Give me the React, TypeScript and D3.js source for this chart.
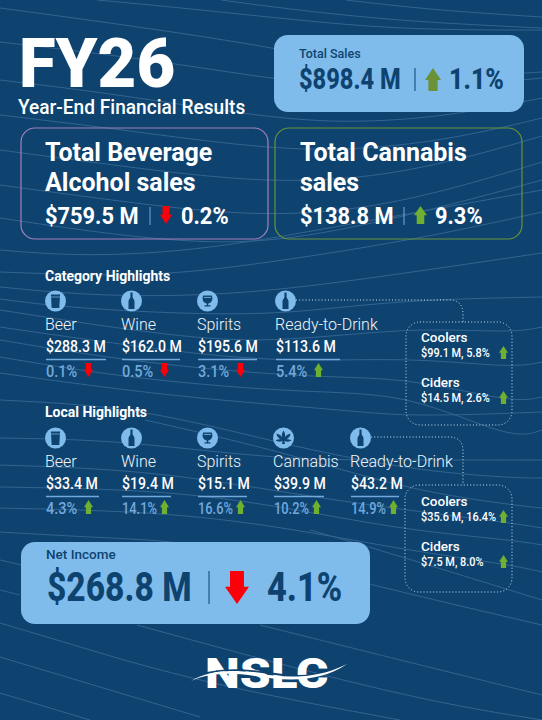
import * as d3 from "d3";

const navy = "#0e4370";
const sky = "#7fbbeb";
const red = "#fa0009";
const green = "#6fb031";
const olive = "#6b9239";
const soft = "#72a9dc";
const font = "Roboto, sans-serif";

const categoryNames = ["Beer", "Wine", "Spirits", "Ready-to-Drink"];
const categorySales = [288.3, 162.0, 195.6, 113.6];
const categoryChange = [-0.1, -0.5, -3.1, 5.4];
const categoryIcons = ["glass", "bottle", "snifter", "bottle"];

const localNames = ["Beer", "Wine", "Spirits", "Cannabis", "Ready-to-Drink"];
const localSales = [33.4, 19.4, 15.1, 39.9, 43.2];
const localChange = [4.3, 14.1, 16.6, 10.2, 14.9];
const localIcons = ["glass", "bottle", "snifter", "leaf", "bottle"];

const rtdNames = ["Coolers", "Ciders"];
const rtdSales = [99.1, 14.5];
const rtdChange = [5.8, 2.6];
const localRtdSales = [35.6, 7.5];
const localRtdChange = [16.4, 8.0];

const totalSales = 898.4;
const totalChange = 1.1;
const alcoholSales = 759.5;
const alcoholChange = -0.2;
const cannabisSales = 138.8;
const cannabisChange = 9.3;
const netIncome = 268.8;
const netChange = -4.1;

// background contour lines, just decoration
const waves: [number, number][][] = [
  [[97, 0], [173, 7], [277, 18], [400, 30], [542, 30]],
  [[221, 0], [311, 12], [415, 22], [542, 28]],
  [[346, 0], [432, 10], [542, 17]],
  [[0, 8], [104, 22], [242, 42], [346, 62], [440, 78], [542, 72]],
  [[0, 42], [69, 50], [173, 63], [277, 80], [400, 92], [542, 78]],
  [[0, 80], [100, 92], [230, 112], [330, 124], [440, 118], [542, 98]],
  [[0, 115], [110, 128], [240, 146], [340, 152], [450, 140], [542, 118]],
  [[0, 150], [120, 166], [250, 182], [360, 180], [460, 160], [542, 136]],
  [[0, 185], [110, 200], [240, 216], [350, 212], [450, 190], [542, 162]],
  [[0, 218], [120, 236], [240, 246], [345, 230], [450, 205], [542, 180]],
  [[0, 250], [86, 257], [207, 250], [345, 225], [542, 190]],
  [[0, 272], [138, 277], [242, 267], [415, 240], [542, 212]],
  [[0, 287], [104, 297], [242, 295], [380, 277], [542, 253]],
  [[0, 299], [69, 308], [207, 315], [297, 313], [400, 300], [542, 297]],
  [[0, 310], [173, 337], [277, 343], [408, 327], [512, 333], [542, 327]],
  [[0, 327], [138, 347], [277, 363], [408, 357], [512, 368], [542, 362]],
  [[0, 340], [138, 363], [311, 378], [408, 377], [512, 403], [542, 397]],
  [[0, 357], [138, 380], [311, 393], [408, 393], [512, 440], [542, 430]],
  [[0, 373], [173, 397], [345, 410], [408, 417], [542, 412]],
  [[0, 400], [138, 407], [277, 443], [408, 470], [512, 478], [542, 478]],
  [[145, 420], [277, 450], [408, 490], [512, 505], [542, 508]],
  [[0, 438], [121, 440], [277, 460], [408, 460], [542, 460]],
  [[0, 465], [150, 470], [300, 495], [405, 510], [512, 523], [542, 528]],
  [[0, 487], [173, 490], [300, 510], [405, 530], [512, 540], [542, 545]],
  [[0, 508], [173, 512], [300, 530], [405, 550], [512, 565], [542, 572]],
  [[0, 532], [104, 538], [207, 542], [370, 585], [542, 625]],
  [[310, 530], [370, 547], [542, 600]],
  [[0, 560], [30, 567]],
  [[0, 590], [20, 595]],
  [[0, 623], [67, 643], [200, 683], [400, 720]],
  [[0, 657], [200, 717]],
  [[0, 693], [90, 720]],
  [[137, 625], [400, 697], [542, 720]],
  [[260, 625], [400, 660], [542, 695]],
];

const waveLine = d3.line().curve(d3.curveBasis);
const money = (v: number) => d3.format("$.1f")(v);
const pct = (v: number) => d3.format(".1f")(Math.abs(v)) + "%";

// column positions for the highlight rows
const column = d3.scaleLinear().domain([0, 1]).range([45, 121]);

function T({ x, y, size, weight = 400, fill = "#fff", sx = 1, children }: any) {
  return (
    <text
      transform={`translate(${x},${y}) scale(${sx},1)`}
      fontFamily={font}
      fontSize={size}
      fontWeight={weight}
      fill={fill}
    >
      {children}
    </text>
  );
}

// block arrow, w wide, h tall, top at y
function Arrow({ x, y, w, h, down, fill }: any) {
  const shaft = w * 0.29;
  const head = h * 0.52;
  const c = x + w / 2;
  const p = d3.path();
  if (down) {
    p.moveTo(c - shaft, y);
    p.lineTo(c + shaft, y);
    p.lineTo(c + shaft, y + h - head);
    p.lineTo(x + w, y + h - head);
    p.lineTo(c, y + h);
    p.lineTo(x, y + h - head);
    p.lineTo(c - shaft, y + h - head);
  } else {
    p.moveTo(c, y);
    p.lineTo(x + w, y + head);
    p.lineTo(c + shaft, y + head);
    p.lineTo(c + shaft, y + h);
    p.lineTo(c - shaft, y + h);
    p.lineTo(c - shaft, y + head);
    p.lineTo(x, y + head);
  }
  p.closePath();
  return <path d={p.toString()} fill={fill} />;
}

function Icon({ cx, cy, kind }: any) {
  return (
    <g transform={`translate(${cx},${cy})`}>
      <circle r={10.5} fill={sky} />
      {kind === "glass" && (
        <g>
          <path d="M-4.6,-6.5 H4.6 L3.8,7 H-3.8 Z" fill={navy} />
          <path d="M-4.4,-4 H4.4" stroke={sky} strokeWidth={0.7} />
        </g>
      )}
      {kind === "bottle" && (
        <path
          d="M-1.1,-8.5 H1.1 V-4 C1.1,-2.5 3,-2 3,0.5 V8 H-3 V0.5 C-3,-2 -1.1,-2.5 -1.1,-4 Z"
          fill={navy}
        />
      )}
      {kind === "snifter" && (
        <g fill={navy} transform="scale(0.85)">
          <path d="M-5,-6.5 H5 C7,-2 5,2.5 0.8,2.8 V5 H3.5 V6.5 H-3.5 V5 H-0.8 V2.8 C-5,2.5 -7,-2 -5,-6.5 Z" />
          <path d="M-4.2,-4.8 H4.2 V-3.8 H-4.2 Z" fill={sky} />
        </g>
      )}
      {kind === "leaf" && (
        <path
          d="M0,-7.5 C2,-4.5 2,-2 1.2,-0.5 C3,-3 5,-4 7,-4.2 C6.5,-1.5 5,0.5 2.5,1.4 C4.5,1.2 6.5,1.6 8,2.6 C5.5,4 3,4 1,2.8 L1.4,6 H-1.4 L-1,2.8 C-3,4 -5.5,4 -8,2.6 C-6.5,1.6 -4.5,1.2 -2.5,1.4 C-5,0.5 -6.5,-1.5 -7,-4.2 C-5,-4 -3,-3 -1.2,-0.5 C-2,-2 -2,-4.5 0,-7.5 Z"
          fill={navy}
        />
      )}
    </g>
  );
}

function Highlights({ names, sales, change, icons, y, ruleWidth, shift }: any) {
  return (
    <g>
      {names.map((name: string, i: number) => {
        const x = column(i) + shift[i];
        const down = change[i] < 0;
        const label = pct(change[i]);
        const wide = label.length > 4;
        const textEnd = x + 1 + (wide ? 36 : 32);
        return (
          <g key={name}>
            <Icon cx={x + 10.5} cy={y} kind={icons[i]} />
            <T x={x} y={y + 29} size={16} weight={300} fill="#f2f6fa">{name}</T>
            <T x={x + 1} y={y + 51} size={17} weight={500} sx={0.83}>{money(sales[i]) + " M"}</T>
            <line x1={x + 1} x2={x + 1 + ruleWidth[i]} y1={y + 58.5} y2={y + 58.5} stroke={soft} strokeWidth={1.4} />
            <T x={x + 1} y={y + 76} size={16.5} weight={500} fill={soft} sx={wide ? 0.78 : 0.88}>{label}</T>
            <Arrow x={textEnd + (wide ? 2 : 6)} y={y + 62} w={9} h={14} down={down} fill={down ? red : green} />
          </g>
        );
      })}
    </g>
  );
}

function DotBox({ x, y, w, h, link }: any) {
  return (
    <g fill="none" stroke="#cfe0ee" strokeWidth={1} strokeDasharray="1 2.2">
      <rect x={x} y={y} width={w} height={h} rx={14} />
      <path d={link} />
    </g>
  );
}

function SubRows({ names, sales, change, rows }: any) {
  return (
    <g>
      {names.map((name: string, i: number) => (
        <g key={name}>
          <T x={421} y={rows[i]} size={13.5} weight={500}>{name}</T>
          <T x={421} y={rows[i] + 15} size={13.5} weight={500} sx={0.81}>
            {money(sales[i]) + " M, " + pct(change[i])}
          </T>
          <Arrow x={499} y={rows[i] + 4} w={9} h={13} fill={green} />
        </g>
      ))}
    </g>
  );
}

export default function App() {
  return (
    <svg
      width={542}
      height={720}
      viewBox="0 0 542 720"
      style={{ position: "absolute", left: 0, top: 0, display: "block" }}
    >
      <rect width={542} height={720} fill={navy} />
      <g fill="none" stroke="#34648f" strokeWidth={1}>
        {waves.map((w, i) => (
          <path key={i} d={waveLine(w) as string} />
        ))}
      </g>

      <T x={19} y={87} size={69} weight={900} sx={0.97}>FY26</T>
      <T x={18} y={114} size={19.5} weight={500} sx={0.98}>Year-End Financial Results</T>

      <rect x={274} y={35} width={250} height={77} rx={14} fill={sky} />
      <T x={299} y={58} size={12.5} weight={500} fill={navy}>Total Sales</T>
      <T x={299} y={89} size={29.5} weight={800} fill={navy} sx={0.8}>{money(totalSales) + " M"}</T>
      <line x1={415} x2={415} y1={68} y2={91} stroke={navy} />
      <Arrow x={425} y={68} w={16} h={23} fill={olive} />
      <T x={449} y={89} size={29.5} weight={800} fill={navy} sx={0.85}>{pct(totalChange)}</T>

      <rect x={21} y={128} width={247} height={111} rx={14} fill="none" stroke="#a77fb8" strokeWidth={1.2} />
      <T x={45} y={161} size={25} weight={700}>Total Beverage</T>
      <T x={45} y={191} size={25} weight={700}>Alcohol sales</T>
      <T x={45} y={224} size={23} weight={700} sx={0.95}>{money(alcoholSales) + " M"}</T>
      <line x1={150} x2={150} y1={207} y2={225} stroke={soft} />
      <Arrow x={160} y={206} w={12} h={18} down fill={red} />
      <T x={181} y={224} size={23} weight={700} sx={0.95}>{pct(alcoholChange)}</T>

      <rect x={275} y={128} width={247} height={111} rx={14} fill="none" stroke={olive} strokeWidth={1.2} />
      <T x={300} y={161} size={25} weight={700}>Total Cannabis</T>
      <T x={300} y={191} size={25} weight={700}>sales</T>
      <T x={300} y={224} size={23} weight={700} sx={0.95}>{money(cannabisSales) + " M"}</T>
      <line x1={404} x2={404} y1={207} y2={225} stroke={soft} />
      <Arrow x={414} y={206} w={13} h={18} fill={green} />
      <T x={435} y={224} size={23} weight={700} sx={0.95}>{pct(cannabisChange)}</T>

      <T x={45} y={281} size={14} weight={700}>Category Highlights</T>
      <Highlights
        names={categoryNames}
        sales={categorySales}
        change={categoryChange}
        icons={categoryIcons}
        y={301}
        ruleWidth={[60, 58, 59, 64]}
        shift={[0, 0, 0, 2]}
      />
      <DotBox x={406} y={322} w={106} h={103} link="M296,300 H449 Q463,300 463,314 V322" />
      <SubRows names={rtdNames} sales={rtdSales} change={rtdChange} rows={[342, 387]} />

      <T x={45} y={417} size={14} weight={700}>Local Highlights</T>
      <Highlights
        names={localNames}
        sales={localSales}
        change={localChange}
        icons={localIcons}
        y={438}
        ruleWidth={[53, 49, 49, 50, 48]}
        shift={[0, 0, 0, 0, 1]}
      />
      <DotBox x={405} y={485} w={107} h={107} link="M371,437 H449 Q463,437 463,451 V485" />
      <SubRows names={rtdNames} sales={localRtdSales} change={localRtdChange} rows={[506, 551]} />

      <rect x={21} y={542} width={349} height={82} rx={14} fill={sky} />
      <T x={46} y={559} size={13.5} weight={500} fill={navy}>Net Income</T>
      <T x={47} y={601} size={40} weight={800} fill={navy} sx={0.84}>{money(netIncome) + " M"}</T>
      <line x1={209} x2={209} y1={571} y2={604} stroke={navy} />
      <Arrow x={225} y={571} w={24} h={33} down fill={red} />
      <T x={267} y={601} size={40} weight={800} fill={navy} sx={0.86}>{pct(netChange)}</T>

      <T x={205} y={688} size={43} weight={900} sx={1.15}>NSLC</T>
      <path d="M207,673 C228,668 250,670 275,674 C295,677 315,677 331,670" fill="none" stroke={navy} strokeWidth={1.8} />
      <path d="M191,681 C208,671 230,669 255,673 C285,678 315,680 347,664 C320,683 285,681 255,676 C230,672 208,673 191,681 Z" fill="#fff" />
    </svg>
  );
}
